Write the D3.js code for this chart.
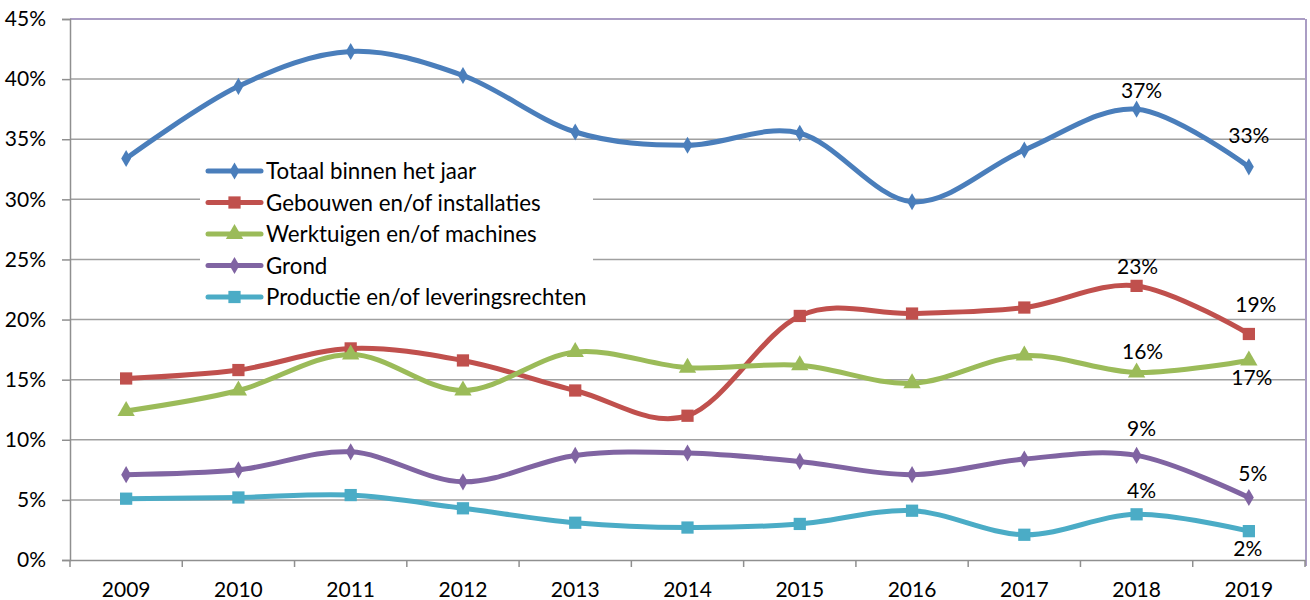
<!DOCTYPE html>
<html><head><meta charset="utf-8">
<script src="https://cdn.jsdelivr.net/npm/d3@7"></script>
<style>body{margin:0;background:#fff}svg{display:block}text{font-family:Lato,"Liberation Sans",sans-serif;fill:#000}</style>
</head><body><svg id="c" width="1310" height="600"></svg>
<script>
const years = ["2009","2010","2011","2012","2013","2014","2015","2016","2017","2018","2019"];
const yTicks = [0,0.05,0.10,0.15,0.20,0.25,0.30,0.35,0.40,0.45];
const seriesNames = ["Totaal binnen het jaar","Gebouwen en/of installaties","Werktuigen en/of machines","Grond","Productie en/of leveringsrechten"];
const totaal     = [0.334,0.394,0.423,0.403,0.356,0.345,0.355,0.298,0.341,0.375,0.327];
const gebouwen   = [0.151,0.158,0.176,0.166,0.141,0.120,0.203,0.205,0.210,0.228,0.188];
const werktuigen = [0.124,0.141,0.171,0.141,0.173,0.160,0.162,0.147,0.170,0.156,0.166];
const grond      = [0.071,0.075,0.090,0.065,0.087,0.089,0.082,0.071,0.084,0.087,0.052];
const productie  = [0.051,0.052,0.054,0.043,0.031,0.027,0.030,0.041,0.021,0.038,0.024];
const labelText = [["37%","33%"],["23%","19%"],["16%","17%"],["9%","5%"],["4%","2%"]];

const colors = ["#4A7EBB","#C0504D","#9BBB59","#8064A2","#4BACC6"];
const markers = ["diamond","square","triangle","diamond","square"];
const labelPos = [[[5,-11],[0,-24]],[[1,-12],[7,-22]],[[6,-13],[3,25]],[[5,-19],[4,-16]],[[5,-16],[-1,25]]];
const allSeries = [totaal,gebouwen,werktuigen,grond,productie];
const FS = 21, LFS = 22.3;

const svg = d3.select("#c");
const L=70,R=1305,T=19,B=560;
const x = d3.scaleBand().domain(years).range([L,R]);
const y = d3.scaleLinear().domain([0,0.45]).range([B,T]);
const cx = d => x(d)+x.bandwidth()/2;

// gridlines
svg.append("g").selectAll("line").data(yTicks.filter(t=>t>0)).join("line")
  .attr("x1",L).attr("x2",R).attr("y1",d=>y(d)).attr("y2",d=>y(d))
  .attr("stroke",d=>d===0.45?"#8E7CB0":"#A0A0A0").attr("stroke-width",1.5);
svg.append("line").attr("x1",R+1).attr("x2",R+1).attr("y1",T).attr("y2",B+6).attr("stroke","#8E7CB0").attr("stroke-width",1.5);

// y axis
const yAx = svg.append("g").attr("transform",`translate(${L},0)`)
  .call(d3.axisLeft(y).tickValues(yTicks).tickSize(8).tickPadding(16).tickFormat(d3.format(".0%")));
yAx.select(".domain").attr("stroke","#8F8F8F").attr("stroke-width",1.5);
yAx.selectAll(".tick line").attr("stroke","#8F8F8F").attr("stroke-width",1.5);
yAx.selectAll("text").attr("font-size",FS).attr("font-family","Lato").attr("fill","#000");

// x axis
const xAx = svg.append("g").attr("transform",`translate(0,${B})`)
  .call(d3.axisBottom(x).tickSize(0).tickPadding(22));
xAx.select(".domain").attr("stroke","#8F8F8F").attr("stroke-width",1.5);
xAx.selectAll("text").attr("font-size",FS).attr("font-family","Lato").attr("fill","#000");
xAx.selectAll("line.sep").data(years.concat(["end"])).join("line").attr("class","sep")
  .attr("x1",(d,i)=>L+i*x.bandwidth()).attr("x2",(d,i)=>L+i*x.bandwidth())
  .attr("y1",0).attr("y2",7).attr("stroke","#8F8F8F").attr("stroke-width",1.5);

const sym = {diamond:d3.symbol().type(d3.symbolDiamond).size(85),
             square:d3.symbol().type(d3.symbolSquare).size(150),
             triangle:d3.symbol().type(d3.symbolTriangle).size(130)};

const line = d3.line().x((d,i)=>cx(years[i])).y(d=>y(d)).curve(d3.curveCatmullRom.alpha(0));

allSeries.forEach((s,k)=>{
  const g = svg.append("g");
  g.append("path").datum(s).attr("d",line).attr("fill","none").attr("stroke",colors[k]).attr("stroke-width",5).attr("stroke-linejoin","round");
  g.selectAll("path.m").data(s).join("path").attr("class","m")
    .attr("transform",(d,i)=>`translate(${cx(years[i])},${y(d)})`)
    .attr("d",sym[markers[k]]()).attr("fill",colors[k]);
  [9,10].forEach((idx,j)=>{
    svg.append("text").attr("x",cx(years[idx])+labelPos[k][j][0]).attr("y",y(s[idx])+labelPos[k][j][1])
      .attr("text-anchor","middle").attr("font-size",FS).text(labelText[k][j]);
  });
});

// legend
const lg = svg.append("g");
lg.append("rect").attr("x",200).attr("y",147).attr("width",393).attr("height",166).attr("fill","#fff");
seriesNames.forEach((n,k)=>{
  const yy = 171 + k*31.5;
  lg.append("line").attr("x1",208).attr("x2",261).attr("y1",yy).attr("y2",yy).attr("stroke",colors[k]).attr("stroke-width",5).attr("stroke-linecap","round");
  lg.append("path").attr("transform",`translate(234.5,${yy})`).attr("d",sym[markers[k]]()).attr("fill",colors[k]);
  lg.append("text").attr("x",266).attr("y",yy+8).attr("font-size",LFS).text(n);
});
</script></body></html>
